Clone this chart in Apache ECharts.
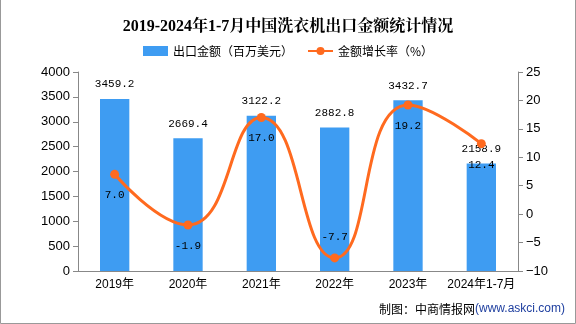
<!DOCTYPE html>
<html><head><meta charset="utf-8">
<script src="https://cdn.jsdelivr.net/npm/echarts@6/dist/echarts.min.js"></script>
<style>html,body{margin:0;padding:0;background:#fff}#c{width:576px;height:324px}</style>
</head><body><div id="c"></div>
<script>
const categories = ['2019年','2020年','2021年','2022年','2023年','2024年1-7月'];
const exportValues = [3459.2, 2669.4, 3122.2, 2882.8, 3432.7, 2158.9];
const growthRates = [7.0, -1.9, 17.0, -7.7, 19.2, 12.4];
const titleText = '2019-2024年1-7月中国洗衣机出口金额统计情况';
const barName = '出口金额（百万美元）';
const lineName = '金额增长率（%）';

const chart = echarts.init(document.getElementById('c'), null, {renderer:'canvas'});
const lblFont = '"Liberation Mono","Noto Sans CJK SC",monospace';
chart.setOption({
  animation:false,
  backgroundColor:'#fff',
  title:{text:titleText,left:'center',top:14,textStyle:{fontFamily:'"Liberation Serif","Noto Serif CJK SC","Noto Sans CJK SC",serif',fontSize:16,fontWeight:'bold',color:'#000'}},
  legend:{top:40,left:'center',itemGap:14,itemWidth:25,itemHeight:10,
    textStyle:{fontFamily:'"Noto Sans CJK SC",sans-serif',fontSize:12,color:'#000'},
    data:[{name:barName,icon:'rect'},{name:lineName}]},
  grid:{left:78,right:58,top:72,bottom:53},
  xAxis:{type:'category',data:categories,
    axisLine:{lineStyle:{color:'#888'}},axisTick:{lineStyle:{color:'#888'}},
    axisLabel:{color:'#000',fontSize:12,fontFamily:'"Liberation Sans","Noto Sans CJK SC",sans-serif',margin:8,interval:0}},
  yAxis:[
    {type:'value',min:0,max:4000,interval:500,
     axisLine:{show:true,lineStyle:{color:'#888'}},axisTick:{show:true,lineStyle:{color:'#888'}},splitLine:{show:false},
     axisLabel:{color:'#000',fontSize:13,fontFamily:'"Liberation Sans",sans-serif',formatter:v=>String(v)}},
    {type:'value',min:-10,max:25,interval:5,position:'right',
     axisLine:{show:true,lineStyle:{color:'#888'}},axisTick:{show:true,lineStyle:{color:'#888'}},splitLine:{show:false},
     axisLabel:{color:'#000',fontSize:13,fontFamily:'"Liberation Sans",sans-serif',formatter:v=>String(v).replace('-','−')}}
  ],
  series:[
    {name:barName,type:'bar',data:exportValues,barWidth:'40%',itemStyle:{color:'#3E9CF2'},
     label:{show:true,position:'top',distance:9,color:'#000',fontSize:11,fontFamily:lblFont,formatter:p=>p.value.toFixed(1)}},
    {name:lineName,type:'line',yAxisIndex:1,data:growthRates.map((v,i)=>({value:v,label:{position:v===-7.7?'top':'bottom'}})),
     smooth:true,symbol:'circle',symbolSize:9,
     lineStyle:{color:'#FF6A1F',width:3},itemStyle:{color:'#FF6A1F'},
     label:{show:true,position:'bottom',distance:11,color:'#000',fontSize:11,fontFamily:lblFont,formatter:p=>p.value.toFixed(1)}}
  ],
  graphic:[
    {type:'polyline',shape:{points:[[0.5,0],[0.5,323.5],[575.5,323.5],[575.5,0]]},style:{stroke:'#999',fill:null,lineWidth:1},silent:true},
    {type:'text',right:11,top:303,style:{rich:{a:{fontSize:12,fontFamily:'"Noto Sans CJK SC",sans-serif',fill:'#000'},b:{fontSize:12,fontFamily:'"Liberation Sans",sans-serif',fill:'#2040A0'}},text:'{a|制图：中商情报网}{b|(www.askci.com)}'}}
  ]
});
</script></body></html>
